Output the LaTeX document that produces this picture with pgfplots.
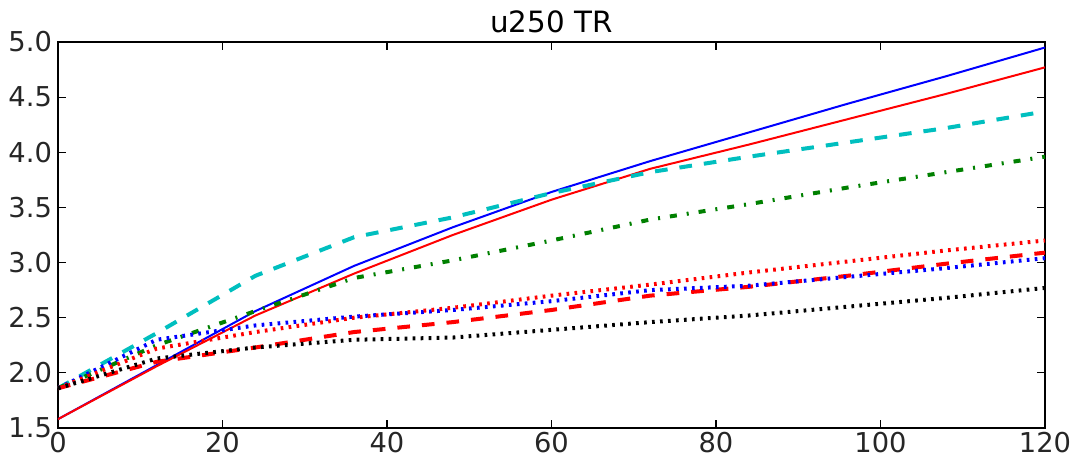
\documentclass[border=0pt]{standalone}
\usepackage{fontspec}
\setmainfont{DejaVu Sans}
\usepackage{pgfplots}
\pgfplotsset{compat=1.18}

\definecolor{mplblue}{rgb}{0,0,1}
\definecolor{mplred}{rgb}{1,0,0}
\definecolor{mplcyan}{rgb}{0,0.75,0.75}
\definecolor{mplgreen}{rgb}{0,0.5,0}

\begin{document}
\begin{tikzpicture}
\begin{axis}[
  name=ax,
  scale only axis,
  width=740.25pt, height=289.5pt,
  xmin=0, xmax=120, ymin=1.5, ymax=5.0,
  xtick={0,20,40,60,80,100,120},
  ytick={1.5,2.0,2.5,3.0,3.5,4.0,4.5,5.0},
  yticklabel style={xshift=-1pt, /pgf/number format/.cd,fixed,fixed zerofill,precision=1},
  /pgf/number format/assume math mode=true,
  tick align=inside,
  tick pos=both,
  major tick length=6pt,
  tick style={black, line width=0.8pt},
  axis line style={black, line width=1pt},
  ticklabel style={font=\fontsize{20.5}{24}\selectfont, text=black!85},
  title={u250 TR},
  title style={font=\fontsize{22}{26}\selectfont, yshift=-3pt},
  clip=true,
]
% forecast-lead curves, 12 h spacing
\addplot[mplblue, line width=1.5pt] coordinates {
 (0,1.58) (12,2.07) (24,2.56) (36,2.97) (48,3.32) (60,3.64) (72,3.92) (84,4.18) (96,4.44) (108,4.69) (120,4.95)};
\addplot[mplred, line width=1.5pt] coordinates {
 (0,1.58) (12,2.06) (24,2.52) (36,2.90) (48,3.25) (60,3.57) (72,3.85) (84,4.07) (96,4.30) (108,4.53) (120,4.77)};
\addplot[mplcyan, line width=3pt, dash pattern=on 9.5pt off 9pt] coordinates {
 (0,1.86) (12,2.36) (24,2.88) (36,3.23) (48,3.41) (60,3.63) (72,3.82) (84,3.96) (96,4.09) (108,4.22) (120,4.37)};
\addplot[mplgreen, line width=3pt, dash pattern=on 5.25pt off 7.5pt on 1.5pt off 7.5pt] coordinates {
 (0,1.86) (12,2.25) (24,2.56) (36,2.86) (48,3.02) (60,3.20) (72,3.39) (84,3.53) (96,3.68) (108,3.82) (120,3.96)};
\addplot[mplred, line width=3pt, dash pattern=on 9.5pt off 9pt] coordinates {
 (0,1.86) (12,2.10) (24,2.23) (36,2.37) (48,2.46) (60,2.57) (72,2.70) (84,2.78) (96,2.88) (108,2.99) (120,3.09)};
\addplot[mplblue, line width=3pt, dash pattern=on 2pt off 4pt] coordinates {
 (0,1.86) (12,2.30) (24,2.43) (36,2.51) (48,2.57) (60,2.65) (72,2.75) (84,2.79) (96,2.87) (108,2.95) (120,3.04)};
\addplot[mplred, line width=3pt, dash pattern=on 2pt off 4pt] coordinates {
 (0,1.86) (12,2.22) (24,2.37) (36,2.50) (48,2.59) (60,2.70) (72,2.80) (84,2.91) (96,3.01) (108,3.11) (120,3.20)};
\addplot[black, line width=3pt, dash pattern=on 2pt off 4pt] coordinates {
 (0,1.86) (12,2.13) (24,2.23) (36,2.30) (48,2.32) (60,2.39) (72,2.46) (84,2.52) (96,2.60) (108,2.68) (120,2.77)};
\end{axis}
\pgfresetboundingbox
\path[use as bounding box] ([xshift=-43.5pt,yshift=-23.25pt]ax.south west) rectangle ++(803.25pt,344.25pt);
\end{tikzpicture}
\end{document}
